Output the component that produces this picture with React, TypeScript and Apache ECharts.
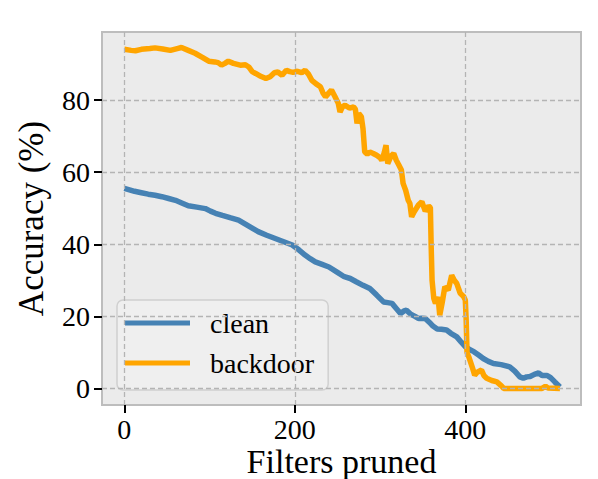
import React, { useEffect, useRef } from "react";
import * as echarts from "echarts";

const cleanX = [0, 6, 12, 20, 28, 36, 44, 52, 60, 68, 75, 85, 95, 101, 107, 115, 125, 134, 142, 150, 157, 167, 177, 187, 197, 205, 212, 218, 224, 232, 240, 250, 258, 265, 272, 280, 288, 296, 304, 309, 314, 319, 324, 328, 331, 336, 341, 345, 349, 353, 358, 362, 367, 372, 378, 383, 390, 395, 400, 405, 410, 416, 421, 427, 433, 442, 452, 458, 464, 468, 472, 476, 481, 486, 490, 496, 500, 505, 511];
const cleanY = [55.5, 55.1, 54.7, 54.3, 53.9, 53.6, 53.2, 52.7, 52.2, 51.4, 50.7, 50.3, 49.9, 49.2, 48.6, 48.0, 47.3, 46.7, 45.6, 44.5, 43.5, 42.5, 41.6, 40.7, 39.8, 38.4, 37.0, 36.0, 35.1, 34.4, 33.7, 32.2, 31.0, 30.5, 29.6, 28.6, 27.7, 25.9, 24.0, 23.8, 23.6, 22.2, 20.8, 21.5, 21.7, 20.6, 20.0, 19.4, 19.5, 19.4, 18.3, 17.3, 16.5, 16.4, 16.2, 15.3, 14.3, 12.9, 11.6, 10.8, 10.2, 9.2, 8.3, 7.5, 6.9, 6.6, 6.0, 4.8, 3.2, 2.8, 3.2, 3.3, 3.9, 4.3, 3.6, 3.6, 3.0, 1.8, 0.4];

const backdoorX = [0, 8, 13, 20, 30, 36, 45, 54, 62, 67, 75, 83, 92, 99, 106, 110, 114, 118, 122, 128, 136, 142, 146, 150, 154, 160, 166, 171, 176, 180, 185, 190, 194, 198, 203, 208, 212, 216, 220, 225, 230, 233, 236, 240, 243, 247, 251, 253, 256, 259, 264, 269, 271, 273, 275, 278, 280, 282, 285, 288, 292, 296, 300, 302, 305, 307, 309, 313, 316, 319, 322, 325, 327, 330, 333, 335, 337, 340, 345, 349, 353, 357, 359, 360, 361, 363, 365, 368, 370, 373, 376, 380, 384, 387, 390, 394, 398, 400, 401, 402, 404, 408, 411, 414, 419, 422, 425, 431, 437, 442, 445, 460, 475, 490, 494, 497, 511];
const backdoorY = [94.1, 93.8, 93.7, 94.1, 94.3, 94.5, 94.2, 93.8, 94.3, 94.6, 93.8, 93.0, 91.8, 90.8, 90.6, 90.4, 89.7, 90.2, 90.8, 90.2, 89.7, 89.8, 89.2, 87.9, 87.4, 86.6, 86.0, 86.5, 87.6, 87.8, 86.9, 88.3, 87.9, 87.7, 88.0, 87.6, 88.3, 87.2, 85.5, 84.5, 83.7, 82.0, 80.9, 82.0, 82.8, 81.0, 79.1, 76.7, 78.2, 78.6, 77.8, 78.1, 77.5, 73.5, 76.3, 75.4, 72.0, 65.6, 65.0, 65.6, 65.2, 64.7, 64.0, 63.3, 65.5, 67.5, 62.4, 64.5, 65.2, 63.3, 62.0, 60.6, 56.9, 55.0, 52.2, 51.3, 47.6, 49.0, 50.9, 51.8, 49.2, 50.6, 50.2, 39.0, 30.0, 25.0, 23.6, 25.4, 20.3, 24.0, 28.2, 27.3, 31.4, 30.0, 29.1, 26.4, 25.5, 24.5, 19.0, 10.0, 8.8, 6.0, 3.7, 4.5, 5.1, 3.5, 2.8, 2.2, 1.8, 0.8, 0.0, 0.0, 0.0, 0.0, 0.6, 0.1, 0.0];

const xTicks = [0, 200, 400];
const yTicks = [0, 20, 40, 60, 80];
const seriesNames = ["clean", "backdoor"];
const xLabel = "Filters pruned";
const yLabel = "Accuracy (%)";

const FONT = "'Liberation Serif', 'Times New Roman', Times, serif";

export default function App() {
  const ref = useRef<HTMLDivElement>(null);
  useEffect(() => {
    if (!ref.current) return;
    const chart = echarts.init(ref.current, null, { renderer: "svg" });
    const clean = cleanX.map((x, i) => [x, cleanY[i]]);
    const backdoor = backdoorX.map((x, i) => [x, backdoorY[i]]);
    chart.setOption({
      animation: false,
      backgroundColor: "#ffffff",
      grid: {
        left: 102,
        right: 17,
        top: 32,
        bottom: 74,
        containLabel: false,
        outerBoundsMode: "none",
        show: true,
        backgroundColor: "#ebebeb",
        borderColor: "#bdbdbd",
        borderWidth: 2,
      },
      xAxis: {
        type: "value",
        min: -26.2,
        max: 535.7,
        name: xLabel,
        nameLocation: "middle",
        nameGap: 39,
        nameMoveOverlap: false,
        nameTextStyle: { fontFamily: FONT, fontSize: 34, color: "#000", lineHeight: 34 },
        axisLine: { show: false, onZero: false },
        axisTick: { show: true, customValues: xTicks, length: 8, lineStyle: { color: "#000", width: 2 } },
        axisLabel: { customValues: xTicks, fontFamily: FONT, fontSize: 28, lineHeight: 28, color: "#000", margin: 10 },
        splitLine: { show: false },
      },
      yAxis: {
        type: "value",
        min: -4.6,
        max: 98.9,
        name: yLabel,
        nameLocation: "middle",
        nameGap: 53,
        nameTextStyle: { fontFamily: FONT, fontSize: 35, color: "#000" },
        axisLine: { show: false, onZero: false },
        axisTick: { show: true, customValues: yTicks, length: 8, lineStyle: { color: "#000", width: 2 } },
        axisLabel: { customValues: yTicks, fontFamily: FONT, fontSize: 28, color: "#000", margin: 12, padding: [6, 0, 0, 0] },
        splitLine: { show: false },
      },
      legend: {
        orient: "vertical",
        left: 117,
        top: 300,
        data: seriesNames,
        icon: "rect",
        itemWidth: 65,
        itemHeight: 5,
        itemGap: 10,
        padding: [8, 14, 12, 8],
        backgroundColor: "#efefef",
        borderColor: "#d0d0d0",
        borderWidth: 1.5,
        borderRadius: 6,
        textStyle: { fontFamily: FONT, fontSize: 28, color: "#000", lineHeight: 30, padding: [0, 0, 0, 15] },
      },
      series: [
        {
          type: "line",
          name: "__grid",
          data: [[0, 0]],
          showSymbol: false,
          symbol: "none",
          lineStyle: { opacity: 0 },
          silent: true,
          z: 1,
          markLine: {
            silent: true,
            symbol: "none",
            label: { show: false },
            lineStyle: { type: [5, 3], color: "#b4b4b4", width: 1.3 },
            data: [...xTicks.map((v) => ({ xAxis: v })), ...yTicks.map((v) => ({ yAxis: v }))],
          },
        },
        {
          type: "line",
          name: seriesNames[0],
          data: clean,
          showSymbol: false,
          symbol: "none",
          color: "#4682b4",
          lineStyle: { width: 5.5, color: "#4682b4" },
          z: 2,
        },
        {
          type: "line",
          name: seriesNames[1],
          data: backdoor,
          showSymbol: false,
          symbol: "none",
          color: "#ffa500",
          lineStyle: { width: 5.5, color: "#ffa500" },
          z: 3,
        },
      ],
    });
    return () => chart.dispose();
  }, []);
  return <div ref={ref} style={{ position: "absolute", left: 0, top: 0, width: 598, height: 479 }} />;
}
